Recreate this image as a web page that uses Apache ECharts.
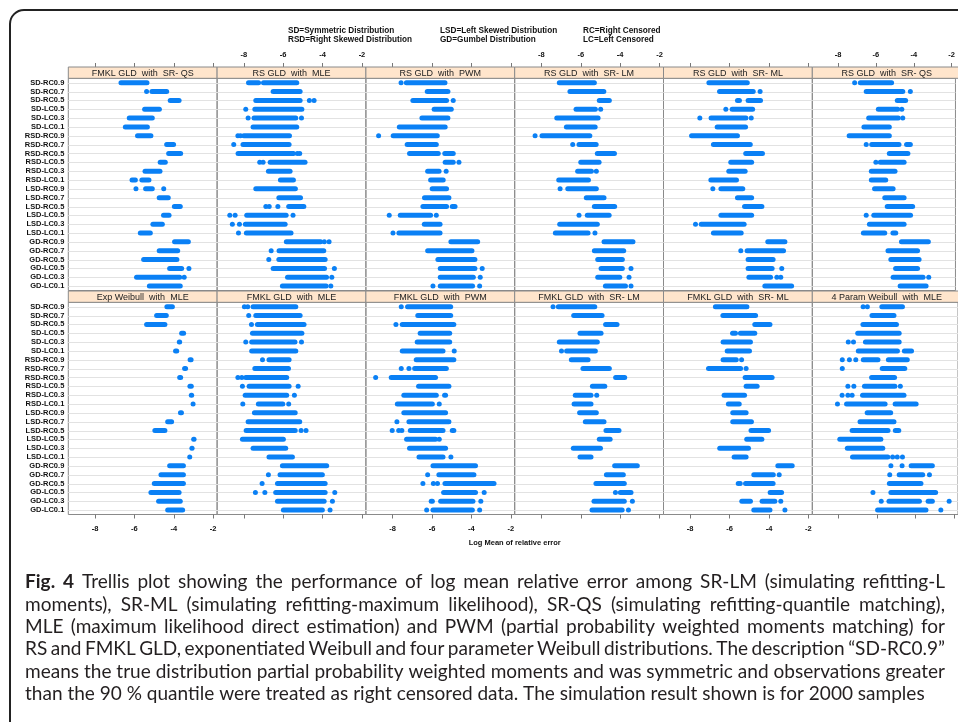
<!DOCTYPE html>
<html><head><meta charset="utf-8">
<script src="https://cdn.jsdelivr.net/npm/echarts@6/dist/echarts.min.js"></script>
<style>html,body{margin:0;padding:0;background:#fff;} #chart{width:958px;height:722px;}</style>
</head><body><div id="chart"></div>
<script>
const categories = ['SD-RC0.9','SD-RC0.7','SD-RC0.5','SD-LC0.5','SD-LC0.3','SD-LC0.1','RSD-RC0.9','RSD-RC0.7','RSD-RC0.5','RSD-LC0.5','RSD-LC0.3','RSD-LC0.1','LSD-RC0.9','LSD-RC0.7','LSD-RC0.5','LSD-LC0.5','LSD-LC0.3','LSD-LC0.1','GD-RC0.9','GD-RC0.7','GD-RC0.5','GD-LC0.5','GD-LC0.3','GD-LC0.1'];
const xTickValues = [-8, -6, -4, -2];
const upperTitles = ['FMKL GLD  with  SR- QS','RS GLD  with  MLE','RS GLD  with  PWM','RS GLD  with  SR- LM','RS GLD  with  SR- ML','RS GLD  with  SR- QS'];
const lowerTitles = ['Exp Weibull  with  MLE','FMKL GLD  with  MLE','FMKL GLD  with  PWM','FMKL GLD  with  SR- LM','FMKL GLD  with  SR- ML','4 Param Weibull  with  MLE'];
const legendLines = [['SD=Symmetric Distribution','RSD=Right Skewed Distribution'],['LSD=Left Skewed Distribution','GD=Gumbel Distribution'],['RC=Right Censored','LC=Left Censored']];
const xAxisTitle = 'Log Mean of relative error';
const captionLabel = 'Fig. 4';
const captionLines = [
 'Trellis plot showing the performance of log mean relative error among SR-LM (simulating refitting-L',
 'moments), SR-ML (simulating refitting-maximum likelihood), SR-QS (simulating refitting-quantile matching),',
 'MLE (maximum likelihood direct estimation) and PWM (partial probability weighted moments matching) for',
 'RS and FMKL GLD, exponentiated Weibull and four parameter Weibull distributions. The description \u201cSD-RC0.9\u201d',
 'means the true distribution partial probability weighted moments and was symmetric and observations greater',
 'than the 90 % quantile were treated as right censored data. The simulation result shown is for 2000 samples'
];

// each row: list of runs [from, to] of dots (a single value = one isolated dot)
const fmklSrQs = [
 [[-6.68,-5.36]],[[-5.38],[-5.11,-4.36]],[[-4.18,-3.73]],[[-5.48,-4.73]],[[-6.26,-5.09]],[[-6.46,-5.34]],
 [[-5.84,-5.16]],[[-4.36,-4.01]],[[-4.26,-3.65]],[[-4.69,-4.43]],[[-5.46,-4.70]],[[-6.12,-5.95],[-5.62,-5.26]],
 [[-5.92],[-5.43,-5.09],[-4.51]],[[-4.74,-4.28]],[[-3.97,-3.67]],[[-4.52,-4.24]],[[-5.06,-4.58]],[[-5.70,-5.19]],
 [[-3.96,-3.26]],[[-4.74,-3.80]],[[-5.53,-3.84]],[[-4.21,-3.60],[-3.23]],[[-5.89,-3.70],[-3.47]],[[-5.24,-3.67]]
];
const rsMle = [
 [[-7.76,-7.25],[-7.00,-5.31]],[[-6.51,-5.14]],[[-7.39,-5.14],[-4.67],[-4.43]],[[-7.90],[-7.44,-5.05]],[[-7.78],[-7.48,-5.36],[-5.07]],[[-7.53,-5.31]],
 [[-8.30],[-8.17],[-8.00,-5.68]],[[-8.51],[-8.04,-5.70]],[[-8.29,-5.48],[-5.28],[-5.16]],[[-7.19],[-7.02],[-6.66,-4.89]],[[-6.75,-5.65]],[[-6.14,-5.48]],
 [[-7.39,-5.38]],[[-6.22,-5.12]],[[-6.88],[-6.71],[-6.27],[-5.72,-4.95]],[[-8.71],[-8.44],[-7.85,-5.85],[-5.50]],[[-8.58],[-8.22],[-7.92,-5.90]],[[-8.27],[-7.87,-5.60]],
 [[-5.84,-4.10],[-3.91],[-3.67]],[[-6.61],[-6.21,-3.94]],[[-6.73],[-6.22,-3.87]],[[-6.51,-3.90],[-3.40]],[[-5.78,-3.80],[-3.53]],[[-6.04,-3.82],[-3.58]]
];
const rsPwm = [
 [[-7.57],[-7.30,-5.34]],[[-6.24,-5.19]],[[-6.97,-5.26],[-4.92]],[[-5.89,-5.02]],[[-6.51,-5.19]],[[-7.66,-5.33]],
 [[-8.71],[-7.97,-5.73]],[[-7.26,-5.78]],[[-7.14,-5.68],[-5.35,-4.92]],[[-5.33,-4.92],[-4.63]],[[-6.22,-5.64],[-5.28]],[[-6.07,-5.43]],
 [[-5.99,-5.26]],[[-6.38,-5.14]],[[-6.46,-5.26],[-4.97,-4.83]],[[-8.17],[-7.61,-6.07],[-5.78]],[[-6.39,-5.59]],[[-7.98],[-7.68,-5.59]],
 [[-5.04,-3.68]],[[-6.22,-3.97]],[[-5.70,-3.82]],[[-5.58,-3.82],[-3.45]],[[-5.58,-3.90],[-3.55]],[[-5.95],[-5.58,-3.94],[-3.58]]
];
const rsSrLm = [
 [[-7.09,-5.31]],[[-6.55,-4.83]],[[-5.06,-4.55]],[[-6.24,-5.26],[-4.99]],[[-7.22,-5.12]],[[-6.73,-5.27]],
 [[-8.32],[-7.97,-5.54]],[[-6.41],[-6.09,-5.22]],[[-5.16,-4.29]],[[-6.00,-5.07]],[[-6.16,-5.46],[-5.21]],[[-7.12,-5.61]],
 [[-7.05],[-6.66,-5.21]],[[-5.72,-4.82]],[[-5.31,-4.28]],[[-6.09],[-5.67,-4.56]],[[-7.07,-5.16]],[[-7.29,-5.63],[-5.28]],
 [[-4.82,-3.35]],[[-5.31,-3.82]],[[-5.14,-3.89]],[[-4.97,-3.89],[-3.45]],[[-5.14,-4.02],[-3.55]],[[-4.75,-3.73],[-3.45]]
];
const rsSrMl = [
 [[-7.05,-5.10]],[[-6.51,-4.80],[-4.45]],[[-5.60,-5.50],[-5.06,-4.43]],[[-6.19],[-5.87,-4.83]],[[-7.51],[-6.94,-5.17],[-4.90]],[[-6.63,-5.19]],
 [[-7.93,-5.60]],[[-6.82,-4.95]],[[-5.18,-4.33]],[[-5.94,-4.88]],[[-6.04,-5.21]],[[-6.95,-5.65]],
 [[-6.85],[-6.44,-5.33]],[[-5.60,-4.88]],[[-5.24,-4.36]],[[-6.44,-4.88]],[[-7.73],[-7.44,-5.26]],[[-6.82,-5.41]],
 [[-4.06,-3.19]],[[-5.43],[-5.11,-3.26]],[[-5.06,-3.79]],[[-5.06,-3.84],[-3.35]],[[-5.02,-3.92],[-3.60],[-3.40]],[[-4.21,-2.85]]
];
const rsSrQs = [
 [[-7.12],[-6.82,-5.17]],[[-6.51,-4.58],[-4.18]],[[-4.87,-4.43]],[[-5.87,-4.85],[-4.63]],[[-6.38,-4.82],[-4.58]],[[-6.63,-5.29]],
 [[-7.41,-5.29]],[[-6.51],[-6.22,-4.78],[-4.38,-4.18]],[[-5.29,-4.31]],[[-6.00],[-5.77,-4.51]],[[-6.24,-4.99]],[[-6.24,-5.48]],
 [[-6.07,-5.09]],[[-5.53,-4.51]],[[-5.40,-4.06]],[[-6.51],[-6.11,-4.17]],[[-6.34,-4.51]],[[-6.66,-5.53],[-5.10,-4.95]],
 [[-4.65,-3.23]],[[-5.36,-3.80]],[[-5.21,-3.72]],[[-4.96,-3.80]],[[-5.09,-3.51],[-3.21]],[[-4.72,-3.35]]
];
const expWeibullMle = [
 [[-4.35,-4.07]],[[-4.87,-4.38]],[[-5.38,-4.45]],[[-3.60,-3.50]],[[-3.72,-3.70]],[[-3.91,-3.85]],
 [[-3.17,-3.12]],[[-3.45,-3.40]],[[-3.70,-3.65]],[[-3.18,-3.11]],[[-3.11,-3.09]],[[-3.02]],
 [[-3.66,-3.61]],[[-4.31,-4.11]],[[-4.96,-4.45]],[[-2.99,-2.97]],[[-3.08,-3.07]],[[-3.19]],
 [[-4.21,-3.51]],[[-4.65,-3.51]],[[-4.99,-3.51]],[[-5.16,-3.73]],[[-4.77,-3.67]],[[-4.31,-3.55]]
];
const fmklMle = [
 [[-7.97],[-7.80],[-7.53,-5.36]],[[-7.75],[-7.39,-5.14]],[[-7.61],[-7.31,-4.94]],[[-7.56,-5.05]],[[-7.90],[-7.60,-5.40],[-5.07]],[[-7.60,-5.36]],
 [[-7.05],[-6.72,-5.70]],[[-7.44,-5.73]],[[-8.30],[-8.10],[-7.90,-5.82]],[[-8.07],[-7.73,-5.70],[-5.24]],[[-7.93,-5.82],[-5.43]],[[-8.05],[-7.26,-6.02],[-5.72]],
 [[-7.46,-5.39]],[[-7.78,-5.16]],[[-7.88,-5.39],[-5.09],[-4.84]],[[-8.07,-5.99]],[[-7.53,-5.87]],[[-6.72,-5.53]],
 [[-6.04,-3.79]],[[-6.75],[-6.16,-4.01]],[[-7.07],[-6.29,-3.87]],[[-7.41],[-6.93],[-6.38,-3.87],[-3.38]],[[-6.29,-3.92],[-3.50]],[[-5.99,-4.01],[-3.62]]
];
const fmklPwm = [
 [[-7.56],[-7.24,-5.05]],[[-6.72,-5.05]],[[-7.83],[-7.51,-4.89]],[[-6.60,-5.10]],[[-6.75,-5.10]],[[-7.51,-5.44],[-4.87]],
 [[-6.80,-4.89]],[[-7.56],[-7.17],[-6.88,-5.27]],[[-8.86],[-8.07,-5.82]],[[-6.68,-5.14]],[[-7.43,-5.78],[-5.36,-5.31]],[[-7.76,-5.98],[-5.63]],
 [[-7.43,-5.31]],[[-7.78],[-7.17,-5.14]],[[-8.02],[-7.69],[-7.53],[-7.10,-5.44],[-4.97,-4.89]],[[-7.29,-5.82],[-5.63]],[[-7.14,-5.31]],[[-6.66,-5.44],[-5.04]],
 [[-5.95,-3.79]],[[-6.22],[-5.65,-3.87]],[[-6.46],[-5.93],[-5.72],[-5.34,-2.85]],[[-5.41,-3.79],[-3.35]],[[-6.04,-5.98],[-5.56,-3.92],[-3.52]],[[-6.27],[-5.95,-3.95],[-3.58]]
];
const fmklSrLm = [
 [[-7.41],[-7.14,-5.29]],[[-6.36,-4.92]],[[-4.74,-4.16]],[[-6.04,-4.97]],[[-7.09,-5.16]],[[-6.98],[-6.72,-5.26]],
 [[-6.48,-5.63]],[[-5.89,-4.55]],[[-4.23,-3.77]],[[-5.41,-4.78]],[[-6.28,-5.48],[-5.19]],[[-6.34,-5.48]],
 [[-6.06,-5.21]],[[-5.77,-4.82]],[[-4.72,-4.06]],[[-5.06,-4.51]],[[-6.38,-5.00]],[[-6.04,-5.48]],
 [[-4.28,-3.13]],[[-4.70,-3.84]],[[-5.23,-3.79]],[[-4.24],[-3.99,-3.45]],[[-5.33,-3.79],[-3.38]],[[-5.43,-3.90],[-3.58]]
];
const fmklSrMl = [
 [[-6.72,-5.12]],[[-6.34,-4.68]],[[-4.72,-3.95]],[[-5.85,-5.70],[-5.45,-4.72]],[[-6.33,-4.94]],[[-6.12,-4.99]],
 [[-6.33,-5.66],[-5.39]],[[-7.07,-5.44],[-5.16]],[[-5.21,-3.84]],[[-5.16,-4.60]],[[-6.28,-5.24]],[[-6.06,-5.51]],
 [[-5.84,-5.16]],[[-5.84,-4.89]],[[-4.91,-4.02]],[[-5.13,-4.36]],[[-6.50,-5.04]],[[-5.77,-5.16]],
 [[-3.55,-2.82]],[[-4.77,-3.78],[-3.48]],[[-5.56],[-5.46],[-5.19,-3.79]],[[-3.94,-3.36]],[[-5.38,-4.94],[-4.35,-3.70],[-3.40]],[[-4.77,-3.95],[-3.19]]
];
const weibull4Mle = [
 [[-6.72],[-6.50],[-5.75,-4.68]],[[-6.26,-5.12]],[[-6.73,-4.99]],[[-7.00,-4.85]],[[-7.49],[-7.22],[-6.60,-4.85]],[[-6.97,-4.94],[-4.58,-4.21]],
 [[-7.80],[-7.43],[-7.10],[-6.71,-5.95],[-5.41,-4.43]],[[-7.80],[-5.73,-4.56]],[[-6.28,-5.09]],[[-7.51],[-7.20],[-6.65,-5.07],[-4.79]],[[-7.81],[-7.51],[-7.29],[-6.75,-4.60]],[[-8.05],[-7.58,-5.58],[-5.06,-3.97]],
 [[-6.51,-5.29]],[[-6.88,-5.12]],[[-7.29,-5.43],[-5.05,-4.87]],[[-7.93,-5.80]],[[-7.54,-5.70]],[[-7.27,-5.44],[-5.19],[-4.95],[-4.68]],
 [[-5.28],[-4.70],[-4.23,-3.13]],[[-5.34],[-4.85,-3.63],[-3.28]],[[-5.36,-3.72]],[[-6.21],[-5.28,-2.96]],[[-5.78],[-5.38,-3.80],[-3.35,-3.13],[-2.26]],[[-5.97,-3.46],[-2.69]]
];

const panelData = [fmklSrQs, rsMle, rsPwm, rsSrLm, rsSrMl, rsSrQs, expWeibullMle, fmklMle, fmklPwm, fmklSrLm, fmklSrMl, weibull4Mle];
const titles = upperTitles.concat(lowerTitles);

const X_MIN = -9.355, X_MAX = -1.8;
const COL_LEFT = 68.3, COL_W = 148.8, PANEL_H = 212.2, STRIP_H = 11.3;
const ROW_TOPS = [78.3, 302.3];
const DOT = '#0a80f5';
const BORDER = '#8a8a8a';
const DOT_H = 5;
const SANS = '"Liberation Sans", Arial, sans-serif';

function renderSeg(params, api) {
  const p1 = api.coord([api.value(1), api.value(0)]);
  const p2 = api.coord([api.value(2), api.value(0)]);
  return {type: 'rect', shape: {x: p1[0] - DOT_H / 2, y: p1[1] - DOT_H / 2, width: p2[0] - p1[0] + DOT_H, height: DOT_H, r: DOT_H / 2}, style: {fill: DOT}};
}
function renderRowLine(params, api) {
  const cs = params.coordSys;
  const y = Math.round(api.coord([X_MIN, api.value(0)])[1]) + 0.5;
  return {type: 'line', shape: {x1: cs.x, y1: y, x2: cs.x + cs.width, y2: y}, style: {stroke: '#e2e2e2', lineWidth: 1}};
}

const grid = [], xAxis = [], yAxis = [], series = [], graphic = [];
panelData.forEach((rows, k) => {
  const r = Math.floor(k / 6), c = k % 6;
  const left = COL_LEFT + c * COL_W, top = ROW_TOPS[r];
  const upper = r === 0;
  grid.push({left: left, top: top, width: COL_W, height: PANEL_H, show: true, borderColor: BORDER, borderWidth: 1, backgroundColor: 'transparent'});
  xAxis.push({
    gridIndex: k, type: 'value', min: X_MIN, max: X_MAX,
    position: upper ? 'top' : 'bottom', offset: upper ? STRIP_H : 0,
    axisLine: {show: false}, splitLine: {show: false},
    axisTick: {show: true, length: 4, customValues: xTickValues, lineStyle: {color: '#777', width: 1}},
    axisLabel: {show: upper ? (c % 2 === 1) : (c % 2 === 0), customValues: xTickValues, fontSize: 7.5, fontWeight: 'bold', fontFamily: SANS, color: '#111', margin: upper ? 8 : 10}
  });
  yAxis.push({
    gridIndex: k, type: 'category', data: categories, inverse: true,
    axisLine: {show: false}, axisTick: {show: false}, splitLine: {show: false},
    axisLabel: {show: c === 0, interval: 0, fontSize: 7.5, fontWeight: 'bold', fontFamily: SANS, color: '#111', margin: 4}
  });
  series.push({
    type: 'custom', xAxisIndex: k, yAxisIndex: k, silent: true, z: 1,
    data: categories.map((cat, i) => [i]), encode: {y: 0},
    renderItem: renderRowLine
  });
  const segs = [];
  rows.forEach((row, i) => row.forEach(s => segs.push([i, s[0], s.length > 1 ? s[1] : s[0]])));
  series.push({
    type: 'custom', xAxisIndex: k, yAxisIndex: k, silent: true, z: 3,
    data: segs, encode: {x: [1, 2], y: 0},
    renderItem: renderSeg
  });
  graphic.push({type: 'rect', z: 10, shape: {x: left, y: top - STRIP_H, width: COL_W, height: STRIP_H}, style: {fill: '#ffe5cc', stroke: BORDER, lineWidth: 1}});
  graphic.push({type: 'text', z: 11, x: left + COL_W / 2, y: top - STRIP_H / 2 + 0.5, style: {text: titles[k], fill: '#222', font: '9px ' + SANS, align: 'center', verticalAlign: 'middle'}});
});

const legendX = [288, 440, 583];
legendLines.forEach((pair, j) => {
  pair.forEach((t, m) => {
    graphic.push({type: 'text', z: 11, x: legendX[j], y: 31 + m * 9, style: {text: t, fill: '#111', font: 'bold 8.2px ' + SANS, align: 'left', verticalAlign: 'middle'}});
  });
});
graphic.push({type: 'text', z: 11, x: COL_LEFT + 3 * COL_W, y: 543, style: {text: xAxisTitle, fill: '#111', font: 'bold 7.5px ' + SANS, align: 'center', verticalAlign: 'middle'}});

// justified caption (last line natural spacing)
const CAP_X = 25, CAP_RIGHT = 945, CAP_Y = 582, CAP_LH = 22.4, CAP_LAST_W = 900;
const CAP_FAMILY = 'Lato, "Noto Sans", sans-serif';
const ctx = document.createElement('canvas').getContext('2d');
function measure(font, s) { ctx.font = font; return ctx.measureText(s).width; }
const lastLineText = captionLines[captionLines.length - 1];
const capSize = 18 * CAP_LAST_W / measure('18px ' + CAP_FAMILY, lastLineText);
const fontR = capSize.toFixed(2) + 'px ' + CAP_FAMILY;
const fontB = 'bold ' + fontR;
captionLines.forEach((line, j) => {
  const words = [];
  if (j === 0) captionLabel.split(' ').forEach(w => words.push({t: w, b: true}));
  line.split(' ').forEach(w => words.push({t: w, b: false}));
  const widths = words.map(w => measure(w.b ? fontB : fontR, w.t));
  const total = widths.reduce((a, b) => a + b, 0);
  const isLast = j === captionLines.length - 1;
  const gap = isLast ? measure(fontR, ' ') : (CAP_RIGHT - CAP_X - total) / (words.length - 1);
  let x = CAP_X;
  words.forEach((w, i) => {
    graphic.push({type: 'text', z: 11, x: x, y: CAP_Y + j * CAP_LH, style: {text: w.t, fill: '#231f20', font: w.b ? fontB : fontR, align: 'left', verticalAlign: 'middle'}});
    x += widths[i] + gap;
  });
});
graphic.push({type: 'rect', z: 12, shape: {x: 10, y: 10, width: 1100, height: 1000, r: 14}, style: {fill: 'none', stroke: '#222', lineWidth: 2}});

const chart = echarts.init(document.getElementById('chart'), null, {renderer: 'canvas'});
chart.setOption({animation: false, backgroundColor: '#fff', grid, xAxis, yAxis, series, graphic});
</script></body></html>
